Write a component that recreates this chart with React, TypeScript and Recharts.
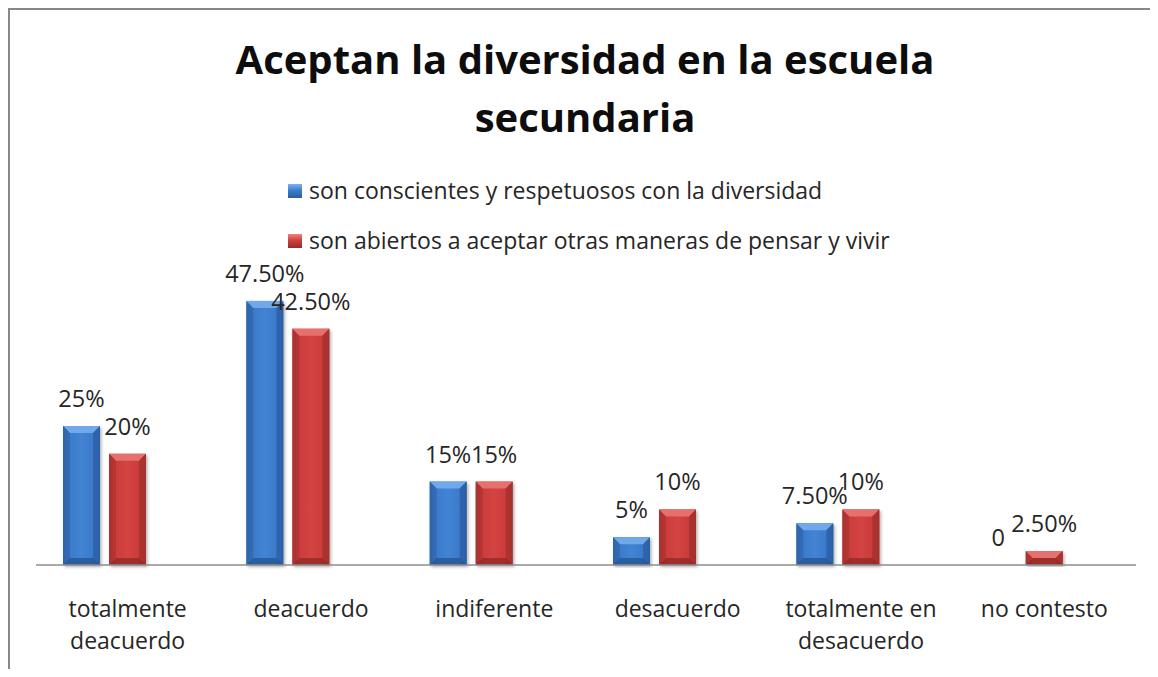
import { Bar, BarChart, LabelList, Legend, XAxis, YAxis } from "recharts";

// categorías del eje (con salto de línea donde el original parte la etiqueta)
const categories = [
  "totalmente\ndeacuerdo",
  "deacuerdo",
  "indiferente",
  "desacuerdo",
  "totalmente en\ndesacuerdo",
  "no contesto",
];
const conscientes = [25, 47.5, 15, 5, 7.5, 0];
const abiertos = [20, 42.5, 15, 10, 10, 2.5];
// tercera serie vacía de la hoja original (solo ocupa su hueco)
const vacia = [null, null, null, null, null, null];

const seriesNames = [
  "son conscientes y respetuosos con la diversidad",
  "son abiertos a aceptar otras maneras de pensar y vivir",
];

const data = categories.map((cat, i) => ({
  cat,
  conscientes: conscientes[i],
  abiertos: abiertos[i],
  vacia: vacia[i],
}));

const FONT = "'Open Sans', 'Noto Sans', sans-serif";
const TEXT = "#262626";

const tones = {
  blue: { grad: "url(#gBlue)", top: "#6fa8ea", side: "#2d62a8", bottom: "#24518c" },
  red: { grad: "url(#gRed)", top: "#e6706d", side: "#a83130", bottom: "#8c2625" },
};

const BevelBar = (props: any) => {
  const { x, y, width, height, tone } = props;
  if (!height || height <= 0 || !width) return null;
  const t = tones[tone as "blue" | "red"];
  const b = Math.min(7, height / 2);
  return (
    <g filter="url(#shadow)">
      <rect x={x} y={y} width={width} height={height} fill={t.grad} />
      <polygon
        points={`${x},${y} ${x + width},${y} ${x + width - b},${y + b} ${x + b},${y + b}`}
        fill={t.top}
      />
      <polygon
        points={`${x},${y} ${x + b},${y + b} ${x + b},${y + height - b} ${x},${y + height}`}
        fill={t.side}
        opacity={0.55}
      />
      <polygon
        points={`${x + width},${y} ${x + width - b},${y + b} ${x + width - b},${y + height - b} ${x + width},${y + height}`}
        fill={t.side}
        opacity={0.8}
      />
      <polygon
        points={`${x},${y + height} ${x + b},${y + height - b} ${x + width - b},${y + height - b} ${x + width},${y + height}`}
        fill={t.bottom}
        opacity={0.7}
      />
    </g>
  );
};

const CategoryTick = ({ x, y, payload }: any) => {
  const lines = String(payload.value).split("\n");
  return (
    <text x={x} y={y} textAnchor="middle" fill={TEXT} fontSize={23} fontFamily={FONT}>
      {lines.map((l, i) => (
        <tspan key={i} x={x} dy={i === 0 ? 52 : 32}>
          {l}
        </tspan>
      ))}
    </text>
  );
};

const fmt = (v: any) => {
  if (v === 0) return "0";
  if (Number.isInteger(v)) return `${v}%`;
  return `${Number(v).toFixed(2)}%`;
};

const markerBg = [
  "linear-gradient(to bottom, #7db3f0 0%, #3c7dcc 45%, #2a5c9c 100%)",
  "linear-gradient(to bottom, #ee8581 0%, #cf3e3c 45%, #982a29 100%)",
];

const renderLegend = () => (
  <div style={{ fontFamily: FONT, fontSize: 23, color: TEXT }}>
    {seriesNames.map((name, i) => (
      <div key={name} style={{ display: "flex", alignItems: "center", height: 50 }}>
        <span
          style={{
            display: "inline-block",
            width: 14,
            height: 14,
            marginTop: 2,
            marginRight: 7,
            background: markerBg[i],
          }}
        />
        <span style={{ whiteSpace: "nowrap" }}>{name}</span>
      </div>
    ))}
  </div>
);

export default function App() {
  return (
    <div
      style={{
        position: "relative",
        width: 1140,
        height: 659,
        borderTop: "2px solid #878787",
        borderLeft: "2px solid #878787",
        fontFamily: FONT,
        background: "#fff",
      }}
    >
      <div
        style={{
          position: "absolute",
          top: 20,
          left: 5,
          width: 1140,
          textAlign: "center",
          fontSize: 40,
          fontWeight: 700,
          lineHeight: "58px",
          color: "#0d0d0d",
          zIndex: 1,
        }}
      >
        Aceptan la diversidad en la escuela
        <br />
        secundaria
      </div>
      <BarChart
        width={1140}
        height={659}
        data={data}
        margin={{ top: 277, right: 14, bottom: 0, left: 26 }}
        barSize={37}
        barGap={9}
      >
        <defs>
          <linearGradient id="gBlue" x1="0" y1="0" x2="1" y2="0">
            <stop offset="0%" stopColor="#2f66ae" />
            <stop offset="20%" stopColor="#3b7bcb" />
            <stop offset="50%" stopColor="#4284d3" />
            <stop offset="80%" stopColor="#3b7acb" />
            <stop offset="100%" stopColor="#2a5c9e" />
          </linearGradient>
          <linearGradient id="gRed" x1="0" y1="0" x2="1" y2="0">
            <stop offset="0%" stopColor="#ab3231" />
            <stop offset="20%" stopColor="#cc3d3b" />
            <stop offset="50%" stopColor="#d34442" />
            <stop offset="80%" stopColor="#cb3c3a" />
            <stop offset="100%" stopColor="#9c2b2a" />
          </linearGradient>
          <filter id="shadow" x="-20%" y="-5%" width="150%" height="115%">
            <feDropShadow dx="1.5" dy="2" stdDeviation="1.5" floodColor="#000" floodOpacity="0.3" />
          </filter>
        </defs>
        <XAxis
          dataKey="cat"
          height={104}
          axisLine={{ stroke: "#8c8c8c", strokeWidth: 1.5 }}
          tickLine={false}
          tickSize={0}
          tickMargin={0}
          interval={0}
          tick={<CategoryTick />}
        />
        <YAxis hide domain={[0, 50]} />
        <Legend
          layout="vertical"
          align="center"
          verticalAlign="middle"
          content={renderLegend}
          wrapperStyle={{ position: "absolute", top: 155, left: 278, width: 720 }}
        />
        <Bar
          dataKey="conscientes"
          name={seriesNames[0]}
          isAnimationActive={false}
          shape={(p: any) => <BevelBar {...p} tone="blue" />}
        >
          <LabelList
            dataKey="conscientes"
            position="top"
            offset={19}
            formatter={fmt}
            fill={TEXT}
            fontSize={23.5}
            fontFamily={FONT}
          />
        </Bar>
        <Bar
          dataKey="abiertos"
          name={seriesNames[1]}
          isAnimationActive={false}
          shape={(p: any) => <BevelBar {...p} tone="red" />}
        >
          <LabelList
            dataKey="abiertos"
            position="top"
            offset={19}
            formatter={fmt}
            fill={TEXT}
            fontSize={23.5}
            fontFamily={FONT}
          />
        </Bar>
        <Bar dataKey="vacia" isAnimationActive={false} legendType="none" fill="transparent" />
      </BarChart>
    </div>
  );
}
